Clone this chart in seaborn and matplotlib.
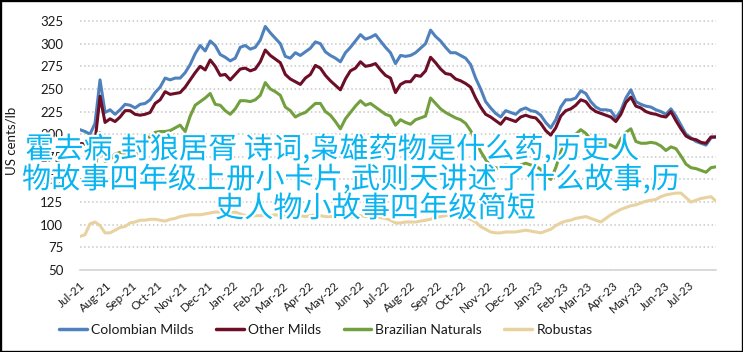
import matplotlib
matplotlib.use("Agg")
import matplotlib.pyplot as plt
import matplotlib.dates as mdates
import matplotlib.patheffects as pe
from matplotlib.lines import Line2D
from matplotlib.patches import Rectangle
import seaborn as sns
import pandas as pd

# ---------------- data (US cents/lb, sampled every 6 days from 1 Jul 2021) ----------------
start_date = "2021-07-01"
n_points = 128

colombian_milds = [
    205, 203, 200, 212, 260, 224, 227, 222, 227, 233,
    232, 229, 233, 234, 238, 246, 252, 262, 260, 262,
    262, 268, 277, 289, 298, 292, 303, 298, 288, 285,
    281, 284, 296, 298, 294, 296, 304, 319, 312, 306,
    300, 286, 284, 290, 287, 291, 295, 302, 300, 291,
    287, 284, 280, 290, 296, 303, 310, 305, 307, 310,
    303, 296, 290, 278, 287, 286, 287, 290, 295, 300,
    315, 308, 303, 296, 290, 290, 287, 284, 277, 262,
    250, 236, 229, 223, 219, 226, 224, 222, 227, 229,
    226, 225, 221, 213, 207, 216, 230, 238, 238, 240,
    248, 245, 236, 230, 227, 227, 226, 218, 226, 240,
    249, 236, 233, 231, 230, 227, 225, 222, 228, 220,
    210, 200, 196, 192, 190, 188, 196, 197,
]
other_milds = [
    190, 189, 188, 192, 242, 213, 217, 214, 219, 226,
    226, 222, 221, 222, 224, 234, 238, 247, 244, 245,
    246, 252, 260, 268, 275, 271, 282, 275, 265, 266,
    260, 266, 272, 273, 270, 272, 280, 293, 287, 283,
    279, 266, 261, 258, 255, 262, 266, 276, 273, 265,
    259, 254, 249, 261, 270, 273, 280, 275, 276, 278,
    271, 265, 262, 246, 255, 258, 258, 265, 264, 270,
    285, 279, 272, 267, 266, 261, 259, 256, 252, 240,
    230, 222, 219, 215, 211, 218, 216, 214, 219, 221,
    219, 218, 212, 204, 199, 207, 220, 226, 228, 232,
    238, 236, 229, 225, 223, 221, 219, 214, 222, 235,
    241, 231, 229, 225, 223, 222, 220, 219, 225, 215,
    206, 198, 195, 194, 191, 190, 197, 197,
]
brazilian_naturals = [
    150, 146, 145, 158, 202, 170, 172, 178, 180, 179,
    177, 176, 183, 190, 198, 202, 203, 203, 204, 207,
    210, 203, 220, 232, 236, 240, 245, 233, 232, 226,
    222, 228, 237, 237, 236, 238, 243, 257, 250, 247,
    243, 230, 226, 219, 222, 224, 229, 234, 234, 225,
    221, 214, 206, 217, 224, 231, 237, 232, 234, 230,
    226, 222, 220, 210, 216, 213, 211, 216, 218, 220,
    240, 234, 228, 224, 221, 218, 216, 212, 204, 192,
    181, 172, 165, 163, 162, 166, 164, 162, 166, 168,
    166, 165, 161, 154, 150, 163, 180, 193, 197, 200,
    205, 201, 194, 191, 190, 189, 188, 185, 195, 202,
    206, 192, 190, 190, 191, 190, 187, 182, 186, 184,
    176, 167, 163, 162, 160, 158, 163, 164,
]
robustas = [
    87, 89, 101, 103, 99, 91, 91, 94, 97, 98,
    102, 103, 105, 105, 106, 106, 105, 104, 106, 107,
    109, 110, 111, 111, 111, 112, 113, 114, 114, 113,
    113, 114, 112, 110, 109, 110, 110, 111, 110, 111,
    110, 109, 110, 111, 110, 109, 110, 111, 110, 109,
    109, 110, 111, 110, 109, 110, 110, 109, 110, 109,
    108, 107, 105, 102, 102, 103, 103, 103, 104, 105,
    106, 108, 109, 110, 111, 111, 109, 108, 106, 103,
    98, 95, 92, 91, 91, 92, 92, 92, 93, 94,
    93, 92, 91, 93, 95, 99, 102, 104, 105, 107,
    108, 109, 107, 105, 103, 107, 111, 114, 117, 119,
    121, 122, 124, 126, 127, 128, 131, 133, 134, 135,
    135, 130, 125, 127, 129, 130, 131, 126,
]

series_names = ["Colombian Milds", "Other Milds", "Brazilian Naturals", "Robustas"]
series_colors = ["#4F81BD", "#6B0E26", "#72A03E", "#E8D2A0"]
y_ticks = [50, 75, 100, 125, 150, 175, 200, 225, 250, 275, 300, 325]
y_label = "US cents/lb"
month_fmt = "%b-%y"
first_tick = "2021-07-01"
last_tick = "2023-07-01"

overlay_lines = [
    "霍去病,封狼居胥 诗词,枭雄药物是什么药,历史人",
    "物故事四年级上册小卡片,武则天讲述了什么故事,历",
    "史人物小故事四年级简短",
]

# ---------------- build frame ----------------
dates = pd.date_range(start_date, periods=n_points, freq="6D")
wide = pd.DataFrame({
    "date": dates,
    series_names[0]: colombian_milds,
    series_names[1]: other_milds,
    series_names[2]: brazilian_naturals,
    series_names[3]: robustas,
})
df = wide.melt(id_vars="date", var_name="series", value_name="price")

# ---------------- style ----------------
sns.set_theme(style="white")
plt.rcParams["font.family"] = ["Lato", "Noto Sans CJK SC", "DejaVu Sans"]

fig = plt.figure(figsize=(7.43, 3.52), dpi=100)
ax = fig.add_axes([80 / 743, 82 / 352, 636 / 743, 258 / 352])

sns.lineplot(
    data=df, x="date", y="price", hue="series", hue_order=series_names,
    palette=series_colors, linewidth=2.2, ax=ax, legend=False,
)

ax.set_ylim(50, 335)
ax.set_yticks(y_ticks)
ax.set_xlim(dates[0], dates[-1])
month_ticks = pd.date_range(first_tick, last_tick, freq="MS")
ax.set_xticks(month_ticks)
ax.set_xticklabels([d.strftime(month_fmt) for d in month_ticks],
                   rotation=42, ha="right", rotation_mode="anchor")
ax.tick_params(axis="x", length=0, pad=7, labelsize=8.5, colors="#1a1a1a")
ax.tick_params(axis="y", length=0, pad=12, labelsize=9.5, colors="#1a1a1a")
ax.set_xlabel("")
ax.set_ylabel(y_label, fontsize=9.5, color="#1a1a1a")
ax.yaxis.set_label_coords(-0.098, 0.5)

ax.yaxis.grid(True, linestyle=":", color="#c8c8c8", linewidth=1.1)
ax.xaxis.grid(False)
for side in ["top", "right", "left"]:
    ax.spines[side].set_visible(False)
ax.spines["bottom"].set_color("#d4d4d4")
ax.spines["bottom"].set_linewidth(1.2)

handles = [Line2D([0], [0], color=c, lw=2.5) for c in series_colors]
fig.legend(handles, series_names, loc="center", bbox_to_anchor=(326 / 743, 1 - 330 / 352),
           ncol=4, frameon=False, fontsize=10, handlelength=2.0, handletextpad=0.3,
           columnspacing=1.6, labelcolor="#1a1a1a")

# overlay text
line_pos = [(25, 150), (22, 180), (215, 209)]
for (px, py), txt in zip(line_pos, overlay_lines):
    fig.text(px / 743, 1 - py / 352, txt, fontsize=21, color="#0AB4F0",
             family=["Noto Sans CJK SC", "DejaVu Sans"], ha="left", va="center",
             zorder=10,
             path_effects=[pe.withStroke(linewidth=3, foreground="white")])

fig.add_artist(Rectangle((0, 0), 1, 1, transform=fig.transFigure, fill=False,
                         edgecolor="black", linewidth=2.4, zorder=20))

fig.savefig("out.png", dpi=100)
